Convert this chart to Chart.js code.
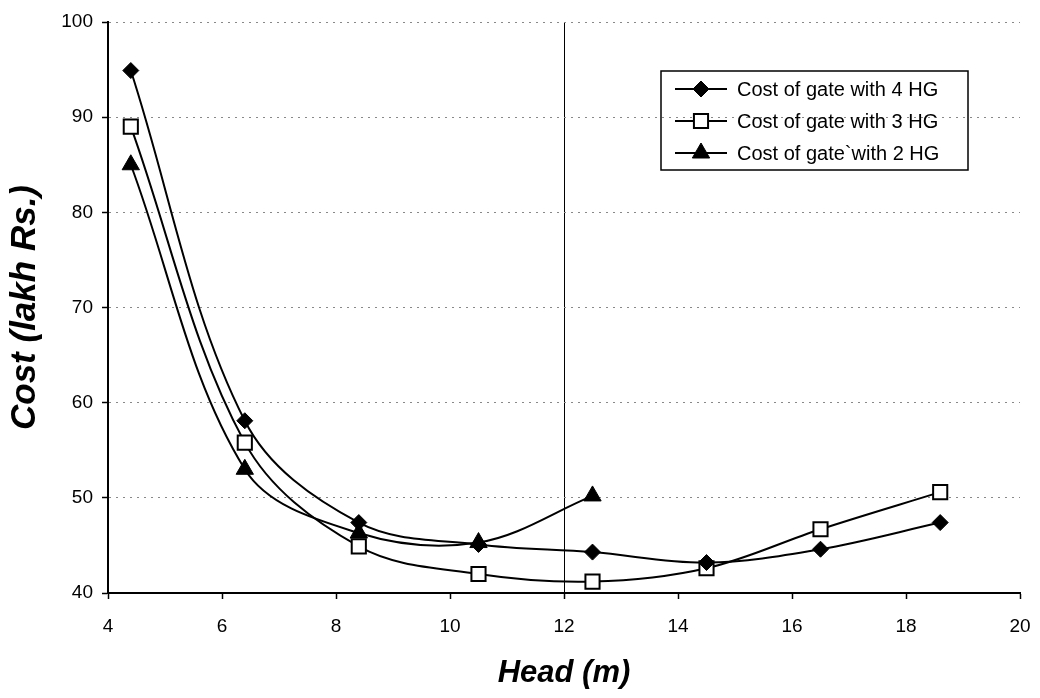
<!DOCTYPE html>
<html>
<head>
<meta charset="utf-8">
<title>Cost vs Head</title>
<script src="https://cdn.jsdelivr.net/npm/chart.js@4.4.0/dist/chart.umd.min.js"></script>
<style>
  html, body { margin: 0; padding: 0; background: #fff; }
  #contenedor { width: 1040px; height: 698px; position: relative; }
</style>
</head>
<body>
<div id="contenedor"><canvas id="myChart"></canvas></div>
<script>
// Head (m) for each gate arrangement
const head4 = [4.4, 6.4, 8.4, 10.5, 12.5, 14.5, 16.5, 18.6];
const head3 = [4.4, 6.4, 8.4, 10.5, 12.5, 14.5, 16.5, 18.6];
const head2 = [4.4, 6.4, 8.4, 10.5, 12.5];

// Cost (lakh Rs.)
const cost4 = [94.9, 58.1, 47.4, 45.1, 44.3, 43.2, 44.6, 47.4];
const cost3 = [89.0, 55.8, 44.9, 42.0, 41.2, 42.6, 46.7, 50.6];
const cost2 = [85.0, 53.0, 46.3, 45.3, 50.2];

const nombres = ['Cost of gate with 4 HG', 'Cost of gate with 3 HG', 'Cost of gate`with 2 HG'];
const xTicks = [4, 6, 8, 10, 12, 14, 16, 18, 20];
const yTicks = [40, 50, 60, 70, 80, 90, 100];

const fuente = "Arial, 'Liberation Sans', sans-serif";

function puntos(xs, ys) {
    return xs.map((x, i) => ({ x: x, y: ys[i] }));
}

function serie(label, data, estilo, relleno, radio, borde) {
    return {
        label: label,
        data: data,
        borderColor: '#000',
        borderWidth: 2,
        tension: 0.35,
        pointStyle: estilo,
        pointRadius: radio,
        pointHoverRadius: radio,
        pointBackgroundColor: relleno,
        pointBorderColor: '#000',
        pointBorderWidth: borde
    };
}

// legend box with line + marker samples
const leyenda = {
    id: 'leyenda',
    afterDraw(chart) {
        const ctx = chart.ctx;
        ctx.save();
        ctx.strokeStyle = '#000';
        ctx.lineWidth = 1.5;
        ctx.strokeRect(661, 71, 307, 99);
        chart.data.datasets.forEach((ds, i) => {
            const y = 89 + i * 32;
            ctx.strokeStyle = '#000';
            ctx.lineWidth = 2;
            ctx.beginPath();
            ctx.moveTo(675, y);
            ctx.lineTo(727, y);
            ctx.stroke();
            ctx.fillStyle = ds.pointBackgroundColor;
            ctx.lineWidth = ds.pointBorderWidth;
            Chart.helpers.drawPoint(ctx, {
                pointStyle: ds.pointStyle,
                radius: ds.pointRadius,
                borderWidth: ds.pointBorderWidth,
                rotation: 0
            }, 701, y);
            ctx.fillStyle = '#000';
            ctx.font = '20px ' + fuente;
            ctx.textBaseline = 'middle';
            ctx.textAlign = 'left';
            ctx.fillText(ds.label, 737, y + 1);
        });
        ctx.restore();
    }
};

const ctx = document.getElementById('myChart').getContext('2d');
const myChart = new Chart(ctx, {
    type: 'line',
    data: {
        datasets: [
            serie(nombres[0], puntos(head4, cost4), 'rectRot', '#000', 8, 1),
            serie(nombres[1], puntos(head3, cost3), 'rect', '#fff', 10, 2),
            serie(nombres[2], puntos(head2, cost2), 'triangle', '#000', 10, 1)
        ]
    },
    options: {
        responsive: true,
        maintainAspectRatio: false,
        animation: false,
        layout: { padding: { left: 0, right: 20, top: 22, bottom: 2 } },
        plugins: {
            legend: { display: false },
            tooltip: { enabled: false }
        },
        scales: {
            x: {
                type: 'linear',
                min: 4,
                max: 20,
                afterBuildTicks: (scale) => { scale.ticks = xTicks.map(v => ({ value: v })); },
                afterFit: (scale) => {
                    scale.height = 103;
                    scale.paddingLeft = 0;
                    scale.paddingRight = 0;
                },
                grid: {
                    color: (c) => c.tick && c.tick.value === 12 ? '#000' : 'rgba(0,0,0,0)',
                    lineWidth: 1,
                    tickColor: '#000',
                    tickLength: 6,
                    tickWidth: 1.5
                },
                border: { display: true, color: '#000', width: 2 },
                ticks: {
                    color: '#000',
                    padding: 16,
                    font: { family: fuente, size: 19 }
                },
                title: {
                    display: true,
                    text: 'Head (m)',
                    color: '#000',
                    font: { family: fuente, size: 31, style: 'italic', weight: 'bold' },
                    padding: { top: 4, bottom: 4 }
                }
            },
            y: {
                min: 40,
                max: 100,
                afterBuildTicks: (scale) => { scale.ticks = yTicks.map(v => ({ value: v })); },
                afterFit: (scale) => { scale.width = 108; },
                grid: {
                    color: (c) => c.tick && c.tick.value === 40 ? 'rgba(0,0,0,0)' : '#888',
                    lineWidth: 1,
                    tickColor: '#000',
                    tickLength: 6,
                    tickWidth: 1.5
                },
                border: { display: true, color: '#000', width: 2, dash: [2, 5] },
                ticks: {
                    color: '#000',
                    padding: 9,
                    font: { family: fuente, size: 19 }
                },
                title: {
                    display: true,
                    text: 'Cost (lakh Rs.)',
                    color: '#000',
                    font: { family: fuente, size: 35, style: 'italic', weight: 'bold' },
                    padding: { top: 4, bottom: 4 }
                }
            }
        }
    },
    plugins: [leyenda]
});
</script>
</body>
</html>
